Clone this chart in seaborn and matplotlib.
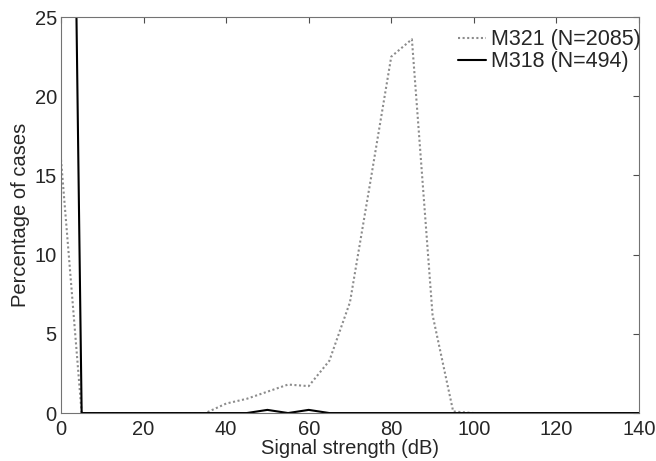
import numpy as np
import pandas as pd
import matplotlib
matplotlib.use("Agg")
import matplotlib.pyplot as plt
import seaborn as sns

# signal strength bins (dB)
signal_db = [0, 5, 10, 15, 20, 25, 30, 35, 40, 45, 50, 55, 60, 65, 70,
             75, 80, 85, 90, 95, 100, 105, 110, 115, 120, 125, 130, 135, 140]

# percentage of cases per bin
m321_pct = [16.0, 0, 0, 0, 0, 0, 0, 0, 0.6, 0.9, 1.35, 1.8, 1.7, 3.3, 7.0,
            14.7, 22.5, 23.6, 6.2, 0.1, 0, 0, 0, 0, 0, 0, 0, 0, 0]
m318_pct = [99.6, 0, 0, 0, 0, 0, 0, 0, 0, 0, 0.2, 0, 0.2, 0, 0,
            0, 0, 0, 0, 0, 0, 0, 0, 0, 0, 0, 0, 0, 0]

series_labels = ["M321 (N=2085)", "M318 (N=494)"]

df = pd.DataFrame({
    "signal": signal_db * 2,
    "pct": m321_pct + m318_pct,
    "series": [series_labels[0]] * len(signal_db) + [series_labels[1]] * len(signal_db),
})

sns.set_style("white")
plt.rcParams["font.family"] = ["Liberation Sans", "DejaVu Sans"]

fig = plt.figure(figsize=(6.56, 4.61), dpi=100)
ax = fig.add_axes([0.093, 0.104, 0.881, 0.859])

sns.lineplot(data=df, x="signal", y="pct", hue="series", style="series",
             palette={series_labels[0]: "0.55", series_labels[1]: "black"},
             dashes={series_labels[0]: (1, 1.2), series_labels[1]: ""},
             linewidth=1.5, ax=ax, legend=True)

ax.set_xlim(0, 140)
ax.set_ylim(0, 25)
ax.set_xticks(range(0, 141, 20))
ax.set_yticks(range(0, 26, 5))
ax.set_xlabel("Signal strength (dB)", fontsize=14.5, labelpad=0)
ax.set_ylabel("Percentage of cases", fontsize=14.5, labelpad=3)
ax.tick_params(direction="in", length=4, width=0.8, top=True, right=True,
               labelsize=14.5, color="0.3")
ax.tick_params(axis="x", pad=5)
ax.tick_params(axis="y", pad=3)
for s in ax.spines.values():
    s.set_color("0.45")
    s.set_linewidth(0.8)

ax.legend(loc="upper right", bbox_to_anchor=(1.006, 0.975), frameon=False,
          fontsize=15.5, handlelength=1.3, handletextpad=0.2,
          borderaxespad=0, borderpad=0.1, labelspacing=0.05)

fig.savefig("out.png", dpi=100)
